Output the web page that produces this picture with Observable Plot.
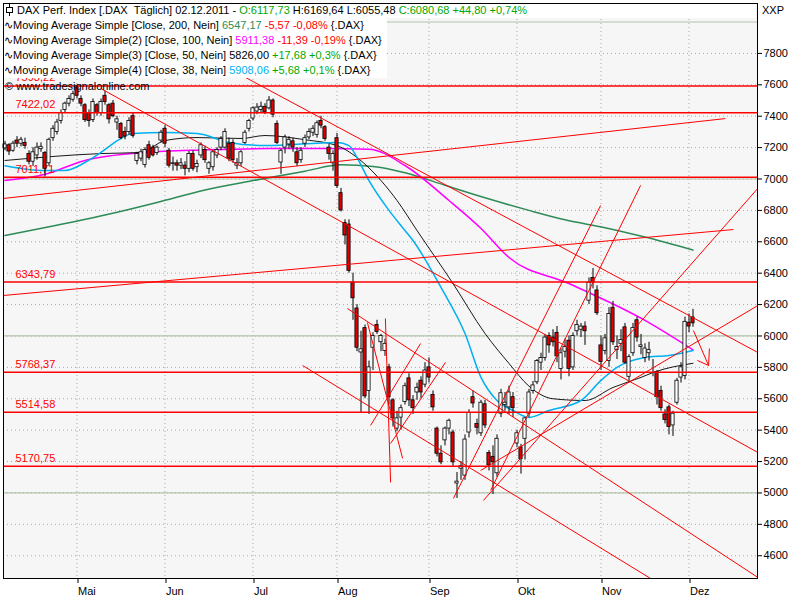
<!DOCTYPE html>
<html><head><meta charset="utf-8">
<script src="https://cdn.jsdelivr.net/npm/d3@7"></script>
<script src="https://cdn.jsdelivr.net/npm/@observablehq/plot@0.6"></script>
<style>
body{margin:0;background:#fff;}
#wrap{position:relative;width:800px;height:600px;font-family:"Liberation Sans",Arial,sans-serif;}
.box{position:absolute;background:#fff;}
.row{position:absolute;left:4px;white-space:pre;font-size:11px;line-height:15px;color:#000;}
.g{color:#00a800}.dg{color:#2e8b57}.r{color:#ff0000}.m{color:#ff00ff}.c{color:#00b0f0}
</style></head><body>
<div id="wrap"></div>
<script>
// ---- data (trading-day index 0 = 4 Apr 2011) ----
const open  = [7195,7215,7180,7245,7225,7230,7160,7110,7150,7190,7165,7100,7260,7300,7370,7440,7480,7505,7590,7510,7470,7420,7375,7470,7420,7530,7470,7480,7360,7350,7300,7300,7400,7115,7130,7090,7215,7200,7165,7245,7320,7180,7095,7100,7085,7085,7065,7160,7075,7150,7185,7065,7075,7150,7200,7200,7225,7230,7085,7100,7230,7320,7385,7430,7440,7460,7450,7500,7350,7105,7200,7220,7240,7170,7120,7225,7265,7295,7280,7370,7330,7200,7100,7260,6910,6720,6710,6340,6175,5895,6050,5650,5925,6070,5960,5905,5800,5590,5410,5480,5580,5730,5590,5640,5715,5690,5800,5625,5410,5250,5335,5410,5385,5060,5155,5110,5385,5610,5440,5380,5565,5255,5230,5125,5505,5560,5545,5610,5315,5290,5345,5505,5650,5705,5830,5860,6000,5990,6020,5790,5900,5970,5800,6030,6040,6060,6225,6370,6290,5940,5905,5840,6180,5910,5950,6055,5740,5890,6100,5930,5860,5890,5800,5770,5650,5500,5545,5430,5575,5735,5745,6085,6117.73];
const high  = [7240,7225,7240,7270,7265,7260,7180,7200,7230,7230,7175,7260,7340,7380,7440,7490,7530,7560,7593.22,7530,7480,7440,7510,7480,7510,7560,7480,7500,7400,7360,7330,7390,7420,7170,7190,7200,7240,7215,7210,7310,7340,7195,7140,7120,7130,7110,7175,7180,7120,7230,7210,7110,7180,7200,7270,7320,7260,7250,7130,7180,7310,7380,7460,7480,7490,7480,7525,7510,7370,7190,7280,7270,7260,7200,7200,7280,7320,7340,7370,7400,7340,7220,7180,7290,6940,6740,6740,6400,6200,6030,6070,5840,6020,6100,6010,5980,5820,5600,5520,5560,5700,5760,5620,5700,5740,5830,5860,5650,5420,5300,5420,5470,5400,5130,5200,5370,5530,5650,5470,5590,5590,5270,5300,5370,5660,5640,5680,5640,5400,5310,5480,5660,5710,5850,5890,6010,6020,6040,6060,5920,5980,6000,6020,6100,6080,6090,6370,6430,6320,6000,6010,6180,6220,6000,6040,6080,5880,6080,6120,6010,5950,5960,5850,5780,5680,5530,5560,5520,5730,5830,6120,6140,6169.64];
const low   = [7180,7150,7170,7200,7205,7190,7090,7080,7120,7170,7012,7080,7240,7280,7350,7420,7460,7490,7510,7460,7360,7330,7360,7400,7400,7470,7350,7390,7310,7250,7250,7280,7260,7090,7110,7070,7120,7140,7150,7230,7200,7070,7050,7050,7060,7020,7040,7050,7040,7130,7100,7030,7050,7130,7180,7190,7110,7100,7060,7080,7220,7300,7370,7410,7420,7410,7440,7390,7220,7030,7160,7190,7170,7080,7100,7200,7250,7270,7260,7320,7240,7120,7050,6940,6790,6580,6400,6100,5900,5510,5600,5500,5780,6010,5900,5870,5560,5420,5390,5400,5560,5550,5500,5590,5600,5670,5700,5520,5230,5180,5300,5370,5170,4965,5080,5080,5350,5540,5370,5360,5410,5140,4990,5100,5480,5520,5500,5480,5290,5120,5210,5480,5630,5690,5780,5840,5890,5930,5830,5720,5860,5740,5780,6000,5990,5940,6200,6300,6130,5780,5880,5800,5940,5850,5900,5820,5700,5870,5960,5880,5830,5840,5740,5560,5520,5440,5370,5360,5560,5700,5720,6020,6055.48];
const close = [7220,7175,7225,7225,7250,7210,7110,7170,7200,7205,7065,7250,7320,7360,7420,7480,7510,7540,7530,7480,7375,7370,7490,7420,7490,7490,7380,7400,7380,7260,7270,7370,7275,7160,7170,7185,7135,7150,7200,7295,7225,7085,7100,7085,7100,7065,7160,7065,7095,7215,7120,7100,7170,7185,7255,7300,7130,7120,7100,7170,7295,7370,7450,7455,7460,7425,7500,7410,7230,7180,7265,7250,7200,7100,7180,7260,7300,7320,7355,7340,7255,7160,7160,6955,6800,6640,6415,6240,5925,5915,5615,5800,6000,6025,6000,5950,5610,5475,5475,5540,5680,5590,5540,5670,5640,5780,5735,5545,5250,5195,5410,5460,5195,5072,5170,5340,5510,5570,5415,5575,5430,5175,5195,5345,5635,5575,5640,5540,5380,5215,5475,5640,5685,5840,5860,5990,5940,5960,5870,5890,5930,5790,6000,6070,6060,6030,6340,6340,6145,5835,5985,6140,5960,5930,5975,5830,5865,6050,5990,5940,5920,5910,5800,5610,5540,5465,5420,5505,5715,5800,6090,6060,6080.68];

const monthIdx    = [18,40,62,83,106,128,149,171];
const monthLabels = ["Mai","Jun","Jul","Aug","Sep","Okt","Nov","Dez"];
const yTicks      = [4600,4800,5000,5200,5400,5600,5800,6000,6200,6400,6600,6800,7000,7200,7400,7600,7800];
const refLevels   = [5000,6000,7000,8000];
const levels      = [7593.22,7422.02,7011.71,6343.79,5768.37,5514.58,5170.75];

// moving averages (index, value)
const ma200Idx = [0,12,25,38,50,62,75,84,92,100,110,120,131,140,150,160,172];
const ma200Val = [6640,6700,6770,6850,6930,6990,7050,7090,7080,7040,6960,6880,6800,6740,6690,6630,6547.17];
const ma100Idx = [0,10,20,35,50,66,80,91,100,111,119,126,141,160,172];
const ma100Val = [6990,7030,7118,7169,7185,7194,7194,7190,7086,6863,6685,6500,6334,6099,5911.38];
const ma50Idx  = [0,24,34,40,48,59,65,75,83,88,94,98,103,112,120,126,131,137,145,152,159,162,172];
const ma50Val  = [7118,7162,7169,7245,7264,7258,7277,7250,7213,7137,6990,6863,6672,6334,6016,5825,5680,5600,5589,5672,5736,5767,5826];
const ma38Idx  = [0,10,15,20,24,27,32,40,48,56,65,83,86,88,91,96,100,102,109,115,119,123,127,131,136,144,149,153,160,166,172];
const ma38Val  = [7085,7054,7054,7105,7169,7226,7290,7296,7290,7233,7213,7233,7213,7137,6990,6800,6672,6608,6309,6016,5736,5589,5525,5481,5525,5589,5717,5800,5863,5876,5908.06];

// drawn trend lines (index, value)
const tX1 = [-0.4,-0.4,60.1,23.9,74.4,85.6,90.6,95.1,91.4,96.4,112.1,121.4,119.6,118.9,172.1,173.1,176.1];
const tY1 = [6876,6258,7647,7577,5812,6175,6086,6111,5430,5315,4965,5016,4952,5143,6035,5844,5920];
const tX2 = [180.1,182.1,188.2,188.2,161.4,188.2,99.4,96.4,103.9,110.1,148.9,158.9,188.2,188.2,175.9,175.9,175.9];
const tY2 = [7385,6678,5895,5258,4455,4462,5220,5067,5952,5831,6831,6959,6940,6194,5812,5812,5812];

// ---- build ----
const candles = open.map((o,i)=>({i,o,h:high[i],l:low[i],c:close[i]}));
const mk = (xs,vs)=>xs.map((x,k)=>({x,y:vs[k]}));
const trends = tX1.map((x,k)=>({x1:x,y1:tY1[k],x2:tX2[k],y2:tY2[k]}));
const fmt = d=>d.toFixed(2).replace(".",",");

const chart = Plot.plot({
  width:800, height:600,
  marginLeft:3, marginRight:43, marginTop:3, marginBottom:22,
  style:{fontFamily:'"Liberation Sans",Arial,sans-serif', fontSize:"11px", background:"#fff", color:"#000"},
  x:{type:"linear", domain:[-0.375,188.125], axis:null},
  y:{type:"linear", domain:[4455,8118], axis:null},
  marks:[
    Plot.frame({fill:"#f6f6f6"}),
    Plot.ruleX(monthIdx,{stroke:"#a8a8a8", strokeDasharray:"1,3"}),
    Plot.ruleY(yTicks,{stroke:"#a8a8a8", strokeDasharray:"1,3"}),
    Plot.ruleY(refLevels,{stroke:"#b4c4ac", strokeWidth:1.2}),
    Plot.line(mk(ma200Idx,ma200Val),{x:"x",y:"y",stroke:"#2e8b57",curve:"monotone-x"}),
    Plot.line(mk(ma100Idx,ma100Val),{x:"x",y:"y",stroke:"#ff00ff",curve:"monotone-x"}),
    Plot.line(mk(ma50Idx,ma50Val),{x:"x",y:"y",stroke:"#000",strokeWidth:0.9,curve:"monotone-x"}),
    Plot.line(mk(ma38Idx,ma38Val),{x:"x",y:"y",stroke:"#00b0f0",curve:"monotone-x"}),
    Plot.text(levels,{y:d=>d, frameAnchor:"left", dx:12, dy:-8, text:fmt, fill:"#ff0000", textAnchor:"start", fontSize:11}),
    Plot.ruleX(candles,{x:"i", y1:"l", y2:"h", stroke:"#000"}),
    Plot.rect(candles,{x1:d=>d.i-0.4, x2:d=>d.i+0.4, y1:"o", y2:"c", fill:d=>d.c>=d.o?"#fff":"#e00000", stroke:"#000", strokeWidth:0.8}),
    Plot.ruleY(levels,{stroke:"#ff0000", strokeWidth:1.5}),
    Plot.link(trends,{x1:"x1",y1:"y1",x2:"x2",y2:"y2",stroke:"#ff0000",strokeWidth:1,clip:true}),
    Plot.frame({stroke:"#000"}),
    Plot.axisY(yTicks,{anchor:"right", tickSize:4, tickPadding:2, fontSize:11, tickFormat:d=>String(d)}),
    Plot.axisX(monthIdx,{anchor:"bottom", tickSize:5, tickPadding:4, fontSize:11, textAnchor:"start", dx:1, tickFormat:d=>monthLabels[monthIdx.indexOf(d)]})
  ]
});
const wrap = document.getElementById("wrap");
wrap.appendChild(chart);
chart.style.position="absolute"; chart.style.left="0"; chart.style.top="0";

const ov = document.createElement("div");
ov.innerHTML = `
<div class="box" style="left:4px;top:4px;width:752px;height:14px"></div>
<div class="box" style="left:4px;top:18px;width:383px;height:60px"></div>
<div class="row" style="top:3px;left:5px"><svg width="9" height="12" style="vertical-align:-2px"><line x1="4.5" y1="0" x2="4.5" y2="12" stroke="#000"/><rect x="1.5" y="3.5" width="6" height="5" fill="#fff" stroke="#000"/></svg> DAX Perf. Index [.DAX  Täglich] 02.12.2011 - <span class="g">O:6117,73</span> H:6169,64 L:6055,48 <span class="g">C:6080,68 +44,80 +0,74%</span></div>
<div class="row" style="top:18px">∿Moving Average Simple [Close, 200, Nein] <span class="dg">6547,17</span> <span class="r">-5,57 -0,08%</span> {.DAX}</div>
<div class="row" style="top:33px">∿Moving Average Simple(2) [Close, 100, Nein] <span class="m">5911,38</span> <span class="r">-11,39 -0,19%</span> {.DAX}</div>
<div class="row" style="top:48px">∿Moving Average Simple(3) [Close, 50, Nein] 5826,00 <span class="g">+17,68 +0,3%</span> {.DAX}</div>
<div class="row" style="top:63px">∿Moving Average Simple(4) [Close, 38, Nein] <span class="c">5908,06</span> <span class="g">+5,68 +0,1%</span> {.DAX}</div>
<div class="row" style="top:79px;left:5px">© www.tradesignalonline.com</div>
<div class="row" style="top:3px;left:762px">XXP</div>`;
wrap.appendChild(ov);
</script>
</body></html>
